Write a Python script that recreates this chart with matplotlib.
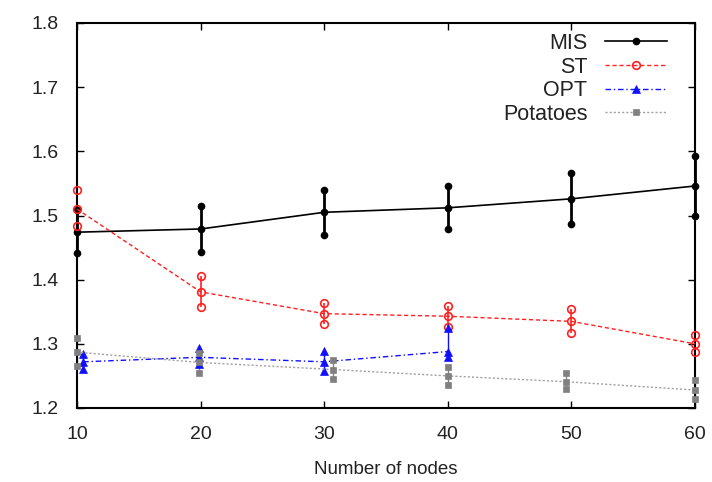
import matplotlib
matplotlib.use("Agg")
import matplotlib.pyplot as plt
from matplotlib.lines import Line2D
import numpy as np

plt.rcParams['font.family'] = ['Liberation Sans', 'DejaVu Sans']

# MIS
mis_x = [10, 20, 30, 40, 50, 60]
mis_y = [1.474, 1.479, 1.505, 1.512, 1.526, 1.546]
mis_lo = [1.441, 1.443, 1.470, 1.479, 1.486, 1.500]
mis_hi = [1.508, 1.515, 1.540, 1.546, 1.566, 1.592]

# ST
st_x = [10, 20, 30, 40, 50, 60]
st_y = [1.510, 1.381, 1.347, 1.343, 1.335, 1.300]
st_lo = [1.483, 1.357, 1.331, 1.327, 1.317, 1.287]
st_hi = [1.540, 1.405, 1.364, 1.359, 1.355, 1.314]

# OPT
opt_x = [10.5, 19.9, 29.95, 40]
opt_y = [1.272, 1.279, 1.272, 1.288]
opt_lo = [1.261, 1.268, 1.257, 1.280]
opt_hi = [1.284, 1.293, 1.289, 1.324]

# Potatoes
pot_x = [10.0, 19.9, 30.7, 40.0, 49.55, 60.0]
pot_y = [1.287, 1.271, 1.260, 1.250, 1.241, 1.228]
pot_lo = [1.265, 1.255, 1.245, 1.236, 1.229, 1.214]
pot_hi = [1.309, 1.286, 1.275, 1.264, 1.254, 1.243]

xticks = [10, 20, 30, 40, 50, 60]
yticks = [1.2, 1.3, 1.4, 1.5, 1.6, 1.7, 1.8]

fig = plt.figure(figsize=(7.12, 4.82), dpi=100)
ax = fig.add_axes([77/712, 1 - 408/482, (695 - 77)/712, (408 - 23)/482])

series = [
    ("MIS", mis_x, mis_y, mis_lo, mis_hi, dict(color='black', ls='-', lw=1.2, marker='o', ms=4.5, mfc='black', mec='black', mew=1.0), 'black', 2.0),
    ("ST", st_x, st_y, st_lo, st_hi, dict(color='#ff2020', ls=(0, (3, 2)), lw=1.0, marker='o', ms=5.5, mfc='none', mec='#ff2020', mew=1.2), '#ff2020', 1.2),
    ("OPT", opt_x, opt_y, opt_lo, opt_hi, dict(color='#1010ff', ls=(0, (4, 2, 1, 2)), lw=1.0, marker='^', ms=6, mfc='#1010ff', mec='#1010ff', mew=0.5), '#1010ff', 1.0),
    ("Potatoes", pot_x, pot_y, pot_lo, pot_hi, dict(color='#a0a0a0', ls=(0, (1.5, 1.5)), lw=1.0, marker='s', ms=4.8, mfc='#808080', mec='#808080', mew=0.5), '#808080', 1.0),
]

handles = []
for name, x, y, lo, hi, st, ecol, elw in series:
    x = np.array(x); y = np.array(y); lo = np.array(lo); hi = np.array(hi)
    ax.vlines(x, lo, hi, colors=ecol, lw=elw, zorder=2, clip_on=False)
    ax.plot(x, y, zorder=3, clip_on=False, **st)
    mk = {k: v for k, v in st.items() if k not in ('ls', 'lw', 'color')}
    ax.plot(x, lo, ls='none', zorder=3, clip_on=False, **mk)
    ax.plot(x, hi, ls='none', zorder=3, clip_on=False, **mk)
    handles.append(Line2D([], [], **st))

ax.set_xlim(10, 60)
ax.set_ylim(1.2, 1.8)
ax.set_xticks(xticks)
ax.set_yticks(yticks)
ax.set_yticklabels([f"{v:.1f}" for v in yticks])
ax.tick_params(direction='in', length=5, width=1.0, top=True, right=True, labelsize=14, labelcolor='#222222')
ax.tick_params(axis='x', pad=13)
ax.tick_params(axis='y', pad=13)
for s in ax.spines.values():
    s.set_linewidth(1.5)
ax.set_xlabel("Number of nodes", fontsize=13.5, labelpad=13, color='#222222')

leg = ax.legend(handles, [s[0] for s in series], loc='upper right', bbox_to_anchor=(1 - 28/618, 1 - 10/385),
                frameon=False, markerfirst=False, numpoints=1, handlelength=2.9, fontsize=15.5,
                labelspacing=0.12, borderpad=0, borderaxespad=0, handletextpad=0.8)
for t in leg.get_texts():
    t.set_color('#222222')

fig.savefig("out.png", dpi=100)
